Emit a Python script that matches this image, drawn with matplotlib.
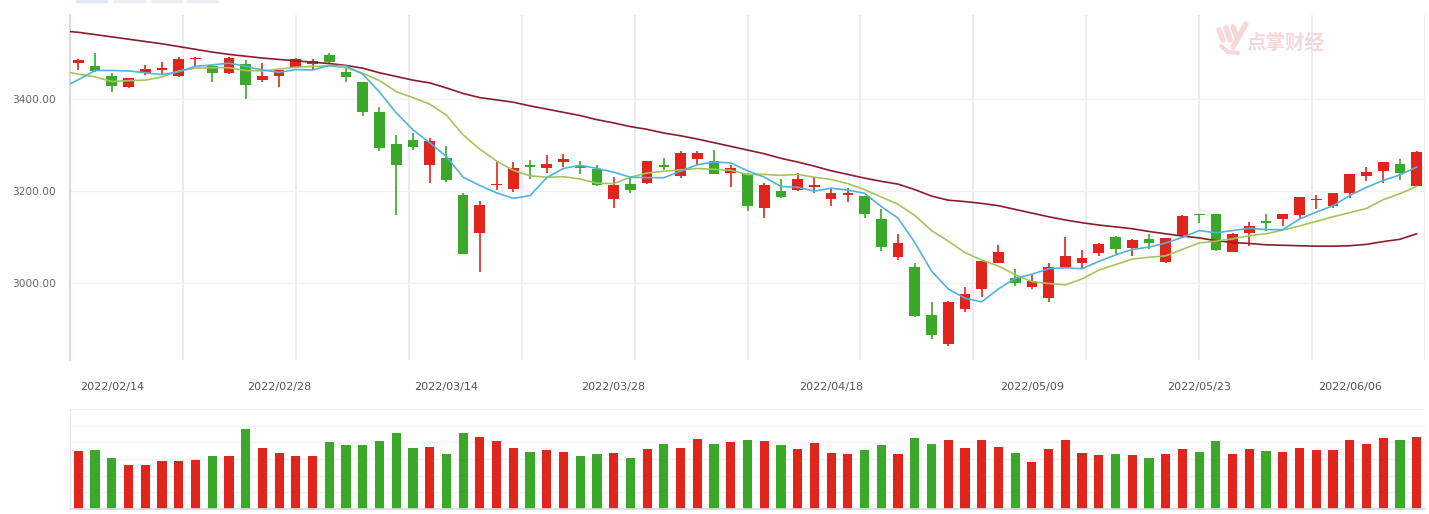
import matplotlib
matplotlib.use('Agg')
import matplotlib.pyplot as plt
from matplotlib.lines import Line2D
import numpy as np

# ---------------- data ----------------
dates = ['2022/02/14', '2022/02/28', '2022/03/14', '2022/03/28',
         '2022/04/18', '2022/05/09', '2022/05/23', '2022/06/06']
date_idx = [2, 12, 22, 32, 45, 57, 67, 76]

opens = [3479, 3472, 3450, 3425, 3456, 3462, 3449, 3486, 3472, 3457,
         3475, 3441, 3449, 3470, 3477, 3496, 3458, 3437, 3371, 3302,
         3311, 3257, 3272, 3191, 3108, 3213, 3205, 3255, 3249, 3264,
         3255, 3248, 3183, 3215, 3217, 3257, 3233, 3269, 3266, 3239,
         3238, 3164, 3200, 3202, 3209, 3183, 3192, 3189, 3139, 3057,
         3034, 2930, 2867, 2944, 2986, 3044, 3010, 2991, 2967, 3035,
         3044, 3066, 3099, 3075, 3095, 3046, 3104, 3150, 3150, 3068,
         3109, 3135, 3139, 3148, 3180, 3167, 3196, 3233, 3244, 3258,
         3211]
highs = [3487, 3501, 3457, 3446, 3474, 3480, 3491, 3491, 3474, 3491,
         3485, 3478, 3464, 3490, 3486, 3499, 3470, 3437, 3382, 3322,
         3327, 3315, 3298, 3196, 3178, 3262, 3262, 3267, 3278, 3280,
         3266, 3256, 3230, 3228, 3266, 3271, 3286, 3286, 3289, 3257,
         3240, 3217, 3225, 3239, 3231, 3204, 3207, 3190, 3160, 3106,
         3043, 2959, 2960, 2992, 3048, 3082, 3030, 3017, 3043, 3099,
         3072, 3086, 3102, 3095, 3107, 3098, 3147, 3150, 3151, 3108,
         3133, 3149, 3150, 3187, 3191, 3196, 3237, 3252, 3263, 3269,
         3286]
lows = [3463, 3459, 3416, 3423, 3453, 3455, 3447, 3472, 3437, 3455,
        3400, 3438, 3425, 3467, 3465, 3476, 3438, 3362, 3287, 3148,
        3290, 3218, 3220, 3062, 3024, 3202, 3198, 3225, 3240, 3253,
        3238, 3210, 3162, 3196, 3216, 3246, 3228, 3257, 3236, 3209,
        3157, 3142, 3184, 3200, 3195, 3168, 3175, 3142, 3070, 3050,
        2925, 2878, 2864, 2938, 2970, 3044, 2994, 2986, 2959, 3035,
        3032, 3059, 3063, 3058, 3073, 3044, 3103, 3130, 3070, 3067,
        3080, 3114, 3124, 3140, 3161, 3164, 3184, 3222, 3217, 3224,
        3210]
closes = [3485, 3460, 3428, 3445, 3465, 3468, 3488, 3490, 3457, 3489,
          3430, 3451, 3462, 3488, 3483, 3480, 3447, 3372, 3293, 3256,
          3296, 3309, 3223, 3064, 3170, 3215, 3250, 3253, 3259, 3270,
          3249, 3212, 3214, 3203, 3265, 3252, 3282, 3282, 3236, 3251,
          3167, 3212, 3186, 3225, 3211, 3195, 3194, 3151, 3079, 3086,
          2928, 2886, 2958, 2975, 3047, 3067, 3001, 3004, 3035, 3058,
          3055, 3084, 3073, 3093, 3086, 3097, 3146, 3147, 3071, 3107,
          3123, 3130, 3149, 3186, 3182, 3195, 3236, 3241, 3262, 3239,
          3284]
volumes = [350, 356, 306, 264, 264, 288, 288, 296, 318, 318,
           480, 366, 336, 318, 318, 402, 384, 384, 408, 456,
           366, 372, 330, 456, 432, 408, 366, 342, 354, 342,
           318, 330, 336, 306, 360, 390, 366, 420, 390, 402,
           414, 408, 384, 360, 396, 336, 330, 354, 384, 330,
           426, 390, 414, 366, 414, 372, 336, 282, 360, 414,
           336, 324, 330, 324, 306, 330, 360, 342, 408, 330,
           360, 348, 342, 366, 354, 354, 414, 390, 426, 414,
           432]

# moving-average lines as drawn (first value = previous session, clipped)
ma5 = [3424, 3442, 3462, 3462, 3461, 3457, 3453, 3459, 3471, 3474, 3478,
       3471, 3463, 3458, 3464, 3463, 3473, 3472, 3454, 3415, 3370,
       3333, 3305, 3275, 3230, 3212, 3196, 3184, 3190, 3229, 3249,
       3256, 3249, 3241, 3230, 3229, 3229, 3243, 3257, 3263, 3261,
       3244, 3230, 3210, 3208, 3200, 3206, 3202, 3195, 3166, 3141,
       3088, 3026, 2987, 2967, 2959, 2987, 3010, 3019, 3031, 3033,
       3031, 3047, 3061, 3073, 3078, 3087, 3099, 3114, 3109, 3114,
       3119, 3116, 3116, 3139, 3154, 3168, 3190, 3208, 3223, 3235,
       3252]
ma10 = [3461, 3454, 3448, 3438, 3440, 3441, 3448, 3461, 3467, 3468, 3468,
        3462, 3461, 3465, 3469, 3471, 3472, 3468, 3456, 3440, 3416,
        3403, 3389, 3365, 3322, 3291, 3265, 3245, 3233, 3230, 3231,
        3226, 3217, 3216, 3230, 3239, 3243, 3246, 3249, 3247, 3245,
        3236, 3236, 3234, 3236, 3230, 3225, 3216, 3203, 3187, 3171,
        3147, 3114, 3091, 3066, 3050, 3037, 3018, 3003, 2999, 2996,
        3009, 3028, 3040, 3052, 3056, 3059, 3073, 3087, 3091, 3096,
        3103, 3107, 3115, 3124, 3134, 3144, 3153, 3162, 3181, 3194,
        3210]
ma30 = [3548, 3545, 3540, 3535, 3530, 3525, 3520, 3514, 3508, 3502, 3497,
        3493, 3489, 3486, 3483, 3480, 3477, 3473, 3467, 3457, 3449,
        3441, 3435, 3424, 3412, 3403, 3398, 3393, 3385, 3378, 3371,
        3364, 3355, 3348, 3340, 3334, 3326, 3320, 3313, 3305, 3297,
        3289, 3281, 3271, 3263, 3254, 3244, 3236, 3228, 3221, 3215,
        3203, 3189, 3180, 3177, 3173, 3168, 3160, 3152, 3144, 3137,
        3131, 3126, 3122, 3118, 3112, 3107, 3102, 3098, 3092, 3088,
        3086, 3083, 3082, 3081, 3080, 3080, 3081, 3084, 3090, 3095,
        3107]
price_ticks = [3000, 3200, 3400]

# ---------------- style ----------------
RED = '#e0261c'
GREEN = '#3aa828'
C_MA5 = '#50b4d8'
C_MA10 = '#a8c35e'
C_MA30 = '#8c1c2c'
TXT = '#666666'

W, H = 1429, 514
fig = plt.figure(figsize=(W / 100, H / 100), dpi=100)
fig.patch.set_facecolor('white')


def rect(l, t, r, b):
    return [l / W, 1 - b / H, (r - l) / W, (b - t) / H]


ax = fig.add_axes(rect(70, 15, 1425, 360))
axv = fig.add_axes(rect(70, 409, 1425, 509))

n = len(closes)
x = np.arange(n)
o = np.array(opens, float)
c = np.array(closes, float)
hi = np.array(highs, float)
lo = np.array(lows, float)
up = c >= o
cols = [RED if u else GREEN for u in up]

# price panel
ax.set_xlim(-0.5, n - 0.5)
ax.set_ylim(2832.6, 3582.6)
for k in range(1, 13):
    ax.axvline(-0.5 + k * n / 12.0, color='#e9ecf2', lw=1.3, zorder=0)
for v in price_ticks:
    ax.axhline(v, color='#f0f1f3', lw=1.0, zorder=0)

ax.vlines(x, lo, hi, colors=cols, lw=1.2, zorder=2)
body_b = np.minimum(o, c)
body_h = np.maximum(np.abs(c - o), 3.0)
ax.bar(x, body_h, bottom=body_b, width=0.64, color=cols, linewidth=0, zorder=3)

xm = np.arange(-1, n)
ax.plot(xm, ma30, color=C_MA30, lw=1.2, zorder=4, solid_joinstyle='round')
ax.plot(xm, ma10, color=C_MA10, lw=1.2, zorder=4, solid_joinstyle='round')
ax.plot(xm, ma5, color=C_MA5, lw=1.2, zorder=4, solid_joinstyle='round')

for s in ['top', 'right', 'bottom']:
    ax.spines[s].set_visible(False)
ax.spines['left'].set_color('#ccd3e0')
ax.spines['left'].set_linewidth(1.2)
ax.set_yticks(price_ticks)
ax.set_yticklabels([f'{v:.2f}' for v in price_ticks])
ax.set_xticks(date_idx)
ax.set_xticklabels(dates)
ax.tick_params(axis='y', length=0, pad=10, labelsize=7.6, labelcolor=TXT)
ax.tick_params(axis='x', length=0, pad=16, labelsize=8, labelcolor='#555555')

# watermark
WM = '#f7d8d8'
fig.text(1285 / W, 1 - 43 / H, '点掌财经', fontsize=14, color=WM,
         fontweight='bold', family=['Noto Sans CJK SC'],
         ha='center', va='center', zorder=1)
for (x0, y0, x1, y1) in [(1219, 30, 1223, 40), (1226, 28, 1230, 40),
                         (1233, 27, 1237, 38), (1246, 24, 1233, 47)]:
    fig.lines.append(Line2D([x0 / W, x1 / W], [1 - y0 / H, 1 - y1 / H],
                            transform=fig.transFigure, color=WM, lw=4,
                            solid_capstyle='round'))
fig.lines.append(Line2D([1221 / W, 1228 / W, 1238 / W],
                        [1 - 46 / H, 1 - 52 / H, 1 - 53 / H],
                        transform=fig.transFigure, color=WM, lw=3,
                        solid_capstyle='round'))

# volume panel
axv.set_xlim(-0.5, n - 0.5)
axv.set_ylim(0, 600)
for v in range(100, 601, 100):
    axv.axhline(v, color='#f1f2f4', lw=1.0, zorder=0)
axv.bar(x, volumes, width=0.55, color=cols, linewidth=0, zorder=2)
for s in ['top', 'right']:
    axv.spines[s].set_visible(False)
axv.spines['left'].set_color('#e3e6ec')
axv.spines['bottom'].set_color('#d5dae4')
axv.spines['bottom'].set_linewidth(1.2)
axv.set_xticks([])
axv.set_yticks([])

# top tabs
for (l, r), colr in zip([(76, 107), (114, 145), (151, 182), (187, 218)],
                        ['#e3e9f6', '#eceef2', '#eceef2', '#eceef2']):
    fig.patches.append(plt.Rectangle((l / W, 1 - 2 / H), (r - l) / W, 2 / H,
                                     transform=fig.transFigure, color=colr))

fig.savefig('out.png', dpi=100)
